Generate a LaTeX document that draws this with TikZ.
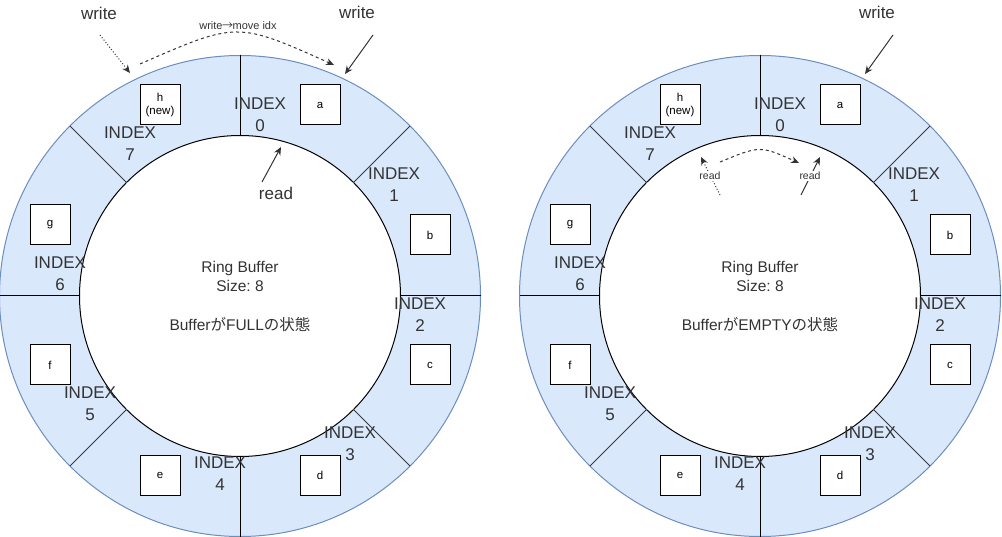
\documentclass[tikz,border=0pt]{standalone}
\usepackage{fontspec}
\setmainfont{Liberation Sans}
\newfontfamily\cjk{Noto Sans CJK JP}
\usetikzlibrary{arrows.meta}
\frenchspacing
\definecolor{ringfill}{HTML}{DAE8FC}
\definecolor{ringline}{HTML}{6C8EBF}
\definecolor{txt}{HTML}{333333}
\definecolor{diagc}{HTML}{36393D}
\tikzset{
  cell/.style={draw=black, fill=white, line width=1pt, minimum width=40pt, minimum height=40pt,
    inner sep=0pt, align=center, font=\fontsize{11.5}{13}\selectfont},
  idx/.style={inner sep=0pt, align=center, text=txt, font=\fontsize{17}{22}\selectfont},
  biglbl/.style={inner sep=0pt, text=txt, font=\fontsize{17}{20}\selectfont},
  smalllbl/.style={inner sep=1pt, fill=white, text=txt, font=\fontsize{10.5}{12}\selectfont},
  toplbl/.style={inner sep=0pt, text=txt, font=\fontsize{11}{13}\selectfont},
  centerlbl/.style={inner sep=0pt, align=center, text=txt, font=\fontsize{15.5}{19}\selectfont},
  arr/.style={-{Stealth[length=8pt,width=7pt,inset=2.5pt]}, line width=1pt, draw=txt},
  dotarr/.style={arr, dash pattern=on 1pt off 2pt},
  dasharr/.style={arr, dash pattern=on 3pt off 3pt},
  spokeline/.style={line width=1pt, draw=black},
  diagline/.style={line width=1pt, draw=diagc},
}
\begin{document}
\begin{tikzpicture}[x=1pt,y=-1pt]
\useasboundingbox (0,0) rectangle (1002,537);
\foreach \cx/\s in {240/L,760/R}{
  % ring
  \fill[ringfill] (\cx,296) circle[radius=240.5pt];
  \draw[ringline, line width=1pt] (\cx,296) circle[radius=240.5pt];
  \fill[white] (\cx,296) circle[radius=160.5pt];
  \draw[black, line width=1pt] (\cx,296) circle[radius=160.5pt];
  % spokes
  \foreach \a in {0,90,180,270}{
    \draw[spokeline] ([shift={(\cx,296)}]\a:160.5pt) -- ([shift={(\cx,296)}]\a:240.5pt);
  }
  \foreach \a in {45,135,225,315}{
    \draw[diagline] ([shift={(\cx,296)}]\a:160.5pt) -- ([shift={(\cx,296)}]\a:240.5pt);
  }
  % boxes
  \node[cell] (box-h-\s) at ([shift={(\cx,296)}]-80,-191) {h\\(new)};
  \node[cell] (box-a-\s) at ([shift={(\cx,296)}]80,-191) {a};
  \node[cell] (box-b-\s) at ([shift={(\cx,296)}]190,-61) {b};
  \node[cell] (box-c-\s) at ([shift={(\cx,296)}]190,69) {c};
  \node[cell] (box-d-\s) at ([shift={(\cx,296)}]80,179) {d};
  \node[cell] (box-e-\s) at ([shift={(\cx,296)}]-80,179) {e};
  \node[cell] (box-f-\s) at ([shift={(\cx,296)}]-190,69) {f};
  \node[cell] (box-g-\s) at ([shift={(\cx,296)}]-190,-71) {g};
  % index labels
  \node[idx] (idx0-\s) at ([shift={(\cx,296)}]20,-181) {INDEX\\0};
  \node[idx] (idx1-\s) at ([shift={(\cx,296)}]154,-111) {INDEX\\1};
  \node[idx] (idx2-\s) at ([shift={(\cx,296)}]180,19) {INDEX\\2};
  \node[idx] (idx3-\s) at ([shift={(\cx,296)}]110,148) {INDEX\\3};
  \node[idx] (idx4-\s) at ([shift={(\cx,296)}]-20,178) {INDEX\\4};
  \node[idx] (idx5-\s) at ([shift={(\cx,296)}]-150,108) {INDEX\\5};
  \node[idx] (idx6-\s) at ([shift={(\cx,296)}]-180,-22) {INDEX\\6};
  \node[idx] (idx7-\s) at ([shift={(\cx,296)}]-110,-152) {INDEX\\7};
  % center title
  \node[centerlbl] (title-\s) at (\cx,276.5) {Ring Buffer\\Size: 8};
}
\node[centerlbl] (state-L) at (240,325) {Buffer{\cjk が}FULL{\cjk の状態}};
\node[centerlbl] (state-R) at (760,325) {Buffer{\cjk が}EMPTY{\cjk の状態}};

% ---- left annotations ----
\node[biglbl] (writeA-L) at (99,13) {write};
\node[biglbl] (writeB-L) at (357,12) {write};
\node[toplbl] (move-L) at (238,26) {write\kern-0.5pt{\cjk →}\kern-0.5pt move idx};
\node[biglbl] (read-L) at (276,193) {read};
\coordinate (wA-s) at (100,35);
\coordinate (wA-e) at (130,73);
\coordinate (wB-s) at (373,35);
\coordinate (wB-e) at (345,74);
\coordinate (mv-s) at (140,64);
\coordinate (mv-c) at (237,21.5);
\coordinate (mv-e) at (334,65);
\coordinate (rd-s) at (262,182);
\coordinate (rd-e) at (281,147);
\draw[dotarr] (wA-s) -- (wA-e);
\draw[arr] (wB-s) -- (wB-e);
\draw[dasharr] (mv-s) .. controls (mv-c) .. (mv-e);
\draw[arr] (rd-s) -- (rd-e);

% ---- right annotations ----
\node[biglbl] (write-R) at (877,12) {write};
\coordinate (wR-s) at (893,35);
\coordinate (wR-e) at (865,74);
\draw[arr] (wR-s) -- (wR-e);
\coordinate (rA-s) at (720,195);
\coordinate (rA-e) at (701,157);
\coordinate (rB-s) at (801,195);
\coordinate (rB-e) at (820,157);
\coordinate (mvR-s) at (720,162);
\coordinate (mvR-c) at (760,145.5);
\coordinate (mvR-e) at (799,163);
\draw[dotarr] (rA-s) -- (rA-e);
\draw[arr] (rB-s) -- (rB-e);
\draw[dasharr] (mvR-s) .. controls (mvR-c) .. (mvR-e);
\node[smalllbl] (readA-R) at (710,176) {read};
\node[smalllbl] (readB-R) at (810,176) {read};
\end{tikzpicture}
\end{document}
